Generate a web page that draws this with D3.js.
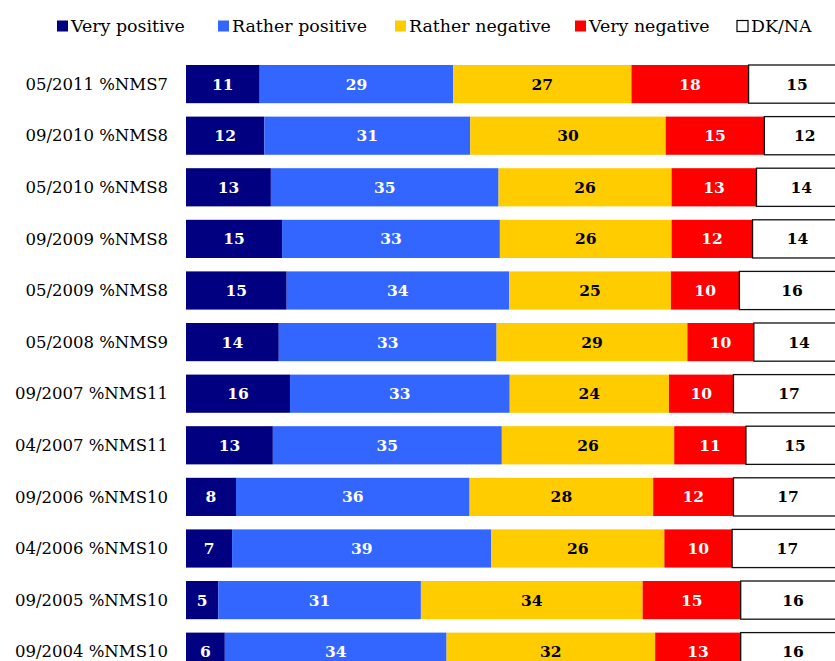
<!DOCTYPE html>
<html>
<head>
<meta charset="utf-8">
<script src="https://cdn.jsdelivr.net/npm/d3@7"></script>
<style>
  html, body { margin: 0; padding: 0; background: #fff; overflow: hidden; }
  svg { display: block; }
</style>
</head>
<body>
<svg id="chart" width="835" height="661"></svg>
<script>
const categories = [
  "05/2011 %NMS7", "09/2010 %NMS8", "05/2010 %NMS8", "09/2009 %NMS8",
  "05/2009 %NMS8", "05/2008 %NMS9", "09/2007 %NMS11", "04/2007 %NMS11",
  "09/2006 %NMS10", "04/2006 %NMS10", "09/2005 %NMS10", "09/2004 %NMS10"
];
const seriesNames = ["Very positive", "Rather positive", "Rather negative", "Very negative", "DK/NA"];
// values (labels show them rounded)
const veryPositive   = [11.2, 11.9, 12.9, 14.6, 15.3, 14.1, 15.8, 13.2, 7.6, 7.0, 4.9, 5.9];
const ratherPositive = [29.4, 31.3, 34.6, 33.1, 33.8, 33.1, 33.4, 34.8, 35.5, 39.4, 30.8, 33.7];
const ratherNegative = [27.1, 29.7, 26.3, 26.1, 24.6, 29.0, 24.2, 26.2, 27.9, 26.3, 33.7, 31.7];
const veryNegative   = [17.8, 15.0, 12.9, 12.3, 10.4, 10.1, 9.8, 10.9, 12.2, 10.3, 14.9, 13.0];
const dkna           = [14.7, 12.3, 13.6, 13.7, 16.0, 13.7, 16.9, 14.9, 16.6, 16.8, 15.9, 15.9];

const colors = ["#000080", "#3366FF", "#FFCC00", "#FF0000", "#FFFFFF"];
const textColors = ["#fff", "#fff", "#000", "#fff", "#000"];
const FONT = "'DejaVu Serif', 'Liberation Serif', serif";

const seriesValues = [veryPositive, ratherPositive, ratherNegative, veryNegative, dkna];
const rows = categories.map((c, i) => {
  const r = { cat: c };
  seriesNames.forEach((s, k) => r[s] = seriesValues[k][i]);
  return r;
});
const stacked = d3.stack().keys(seriesNames)(rows);

const svg = d3.select("#chart");
const x = d3.scaleLinear().domain([0, 100]).range([186, 844]);
const step = 51.6;
const y = d3.scaleBand().domain(categories)
  .range([65 - 0.13 * step, 65 - 0.13 * step + 12 * step])
  .paddingInner(0.26).paddingOuter(0.13).align(0.5);

// category labels
svg.append("g").selectAll("text").data(categories).join("text")
  .attr("x", 168)
  .attr("y", d => y(d) + y.bandwidth() / 2)
  .attr("dy", "0.35em")
  .attr("text-anchor", "end")
  .attr("font-family", FONT)
  .attr("font-size", 16.5)
  .attr("fill", "#000")
  .text(d => d);

// bars
const groups = svg.append("g").selectAll("g").data(stacked).join("g");
groups.each(function(layer, k) {
  const g = d3.select(this);
  g.selectAll("rect").data(layer).join("rect")
    .attr("x", d => x(d[0]))
    .attr("y", d => y(d.data.cat))
    .attr("width", d => x(d[1]) - x(d[0]))
    .attr("height", y.bandwidth())
    .attr("fill", colors[k])
    .attr("stroke", k === 4 ? "#111" : "none")
    .attr("stroke-width", k === 4 ? 1.3 : 0);
  g.selectAll("text").data(layer).join("text")
    .attr("x", d => (x(d[0]) + x(d[1])) / 2)
    .attr("y", d => y(d.data.cat) + y.bandwidth() / 2)
    .attr("dy", "0.36em")
    .attr("text-anchor", "middle")
    .attr("font-family", FONT)
    .attr("font-weight", "bold")
    .attr("font-size", 15.5)
    .attr("fill", textColors[k])
    .text(d => Math.round(d[1] - d[0]));
});

// legend
const legendX = [57, 218, 395, 575, 737];
const lg = svg.append("g").selectAll("g").data(seriesNames).join("g")
  .attr("transform", (d, i) => `translate(${legendX[i]},26)`);
lg.append("rect")
  .attr("x", 0).attr("y", -5.5).attr("width", 11).attr("height", 11)
  .attr("fill", (d, i) => colors[i])
  .attr("stroke", (d, i) => i === 4 ? "#000" : "none")
  .attr("stroke-width", 1.2);
lg.append("text")
  .attr("x", 14).attr("y", 0).attr("dy", "0.35em")
  .attr("font-family", FONT)
  .attr("font-size", 17.4)
  .attr("fill", "#000")
  .text(d => d);
</script>
</body>
</html>
